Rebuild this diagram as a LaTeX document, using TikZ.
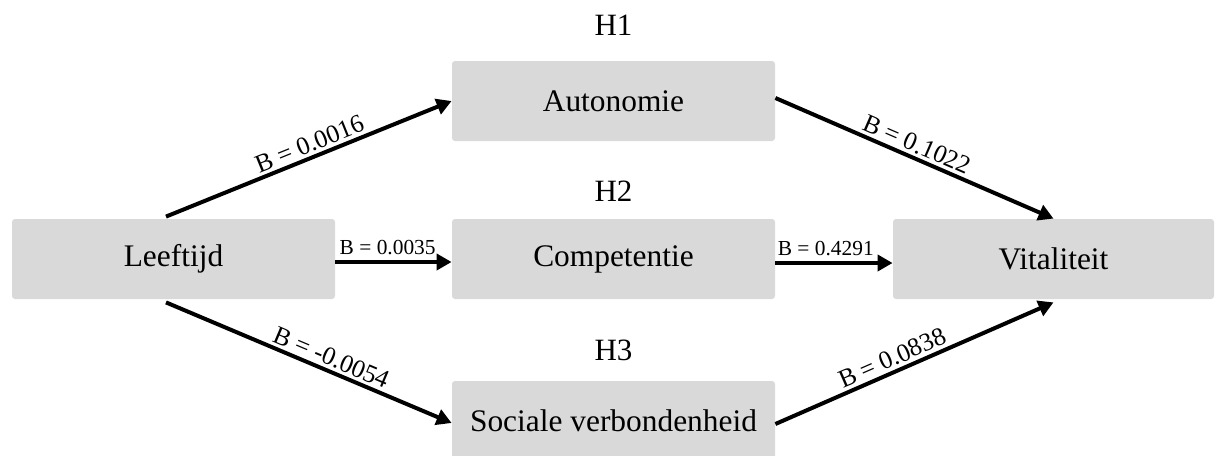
\documentclass[tikz,border=0pt]{standalone}
\usepackage{fontspec}
\setmainfont{Liberation Serif}
\usetikzlibrary{arrows.meta}
\definecolor{boxgray}{HTML}{D9D9D9}
\tikzset{
  varbox/.style={fill=boxgray, rounded corners=1.5pt, minimum width=161.5pt, minimum height=40pt, inner sep=0pt, font=\fontsize{15.7pt}{18pt}\selectfont},
  hyplabel/.style={font=\fontsize{15.5pt}{18pt}\selectfont, inner sep=0pt},
  path arrow/.style={line width=2pt, -{Triangle[length=7.5pt,width=8pt]}},
  coef/.style={font=\fontsize{10.7pt}{12pt}\selectfont, inner sep=2.5pt},
  slopecoef/.style={font=\fontsize{12.8pt}{14pt}\selectfont, inner sep=1.5pt, sloped, above}
}
\begin{document}
\begin{tikzpicture}[x=0.5pt, y=-0.5pt]
\useasboundingbox (0,0) rectangle (1215,455);
\clip (0,0) rectangle (1215,455);
\node[varbox] (leef) at (173.5,259) {Leeftijd};
\node[varbox] (auto) at (613.5,101) {Autonomie};
\node[varbox] (comp) at (613.5,259) {Competentie};
\node[varbox] (soc) at (613.5,421) {Sociale verbondenheid};
\node[varbox, minimum width=160.5pt] (vit) at (1053.5,259) {Vitaliteit};
\node[hyplabel] (h1) at (613.5,25) {H1};
\node[hyplabel] (h2) at (613.5,191.5) {H2};
\node[hyplabel] (h3) at (613.5,350) {H3};
\draw[path arrow] ([xshift=-3.75pt,yshift=1pt]leef.north) -- (auto.west)
  node[slopecoef, pos=0.52] {B = 0.0016};
\draw[path arrow] ([yshift=-1.5pt]leef.east) -- ([yshift=-1.5pt]comp.west)
  node[coef, pos=0.45, above] {B = 0.0035};
\draw[path arrow] ([xshift=-3.75pt,yshift=-1.5pt]leef.south) -- ([yshift=-1pt]soc.west)
  node[slopecoef, pos=0.56] {B = -0.0054};
\draw[path arrow] ([yshift=1.5pt]auto.east) -- (vit.north)
  node[slopecoef, pos=0.49] {B = 0.1022};
\draw[path arrow] ([yshift=-2pt]comp.east) -- ([yshift=-2pt]vit.west)
  node[coef, pos=0.43, above] {B = 0.4291};
\draw[path arrow] ([yshift=-1.5pt]soc.east) -- ([yshift=-1.5pt]vit.south)
  node[slopecoef, pos=0.44] {B = 0.0838};
\end{tikzpicture}
\end{document}
